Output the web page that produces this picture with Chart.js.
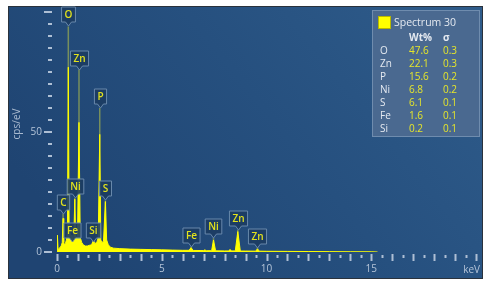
<!DOCTYPE html>
<html>
<head>
<meta charset="utf-8">
<script src="https://cdn.jsdelivr.net/npm/chart.js@4.4.1/dist/chart.umd.min.js"></script>
<style>
  html, body { margin: 0; padding: 0; background: #fff; }
</style>
</head>
<body>
<canvas id="spectrum" width="498" height="286"></canvas>
<script>
// EDS spectrum (keV, cps/eV)
const energies = [
  0.00, 0.02, 0.05, 0.10, 0.15, 0.20, 0.25, 0.29, 0.32, 0.36,
  0.40, 0.45, 0.50, 0.54, 0.58, 0.62, 0.67, 0.71, 0.75, 0.80,
  0.85, 0.89, 0.93, 0.98, 1.05, 1.11, 1.18, 1.25, 1.35, 1.45,
  1.55, 1.65, 1.74, 1.80, 1.90, 1.97, 2.04, 2.09, 2.15, 2.22,
  2.31, 2.37, 2.45, 2.55, 2.70, 3.00, 3.50, 4.00, 4.50, 5.00,
  5.50, 6.00, 6.30, 6.40, 6.50, 7.00, 7.06, 7.12, 7.38, 7.47,
  7.57, 8.00, 8.18, 8.26, 8.34, 8.51, 8.63, 8.75, 9.00, 9.48,
  9.57, 9.66, 10.0, 11.0, 12.0, 13.0, 14.0, 15.0, 15.3
];
const counts = [
  0, 7, 1, 1.5, 2, 2.5, 4, 14, 4, 3,
  3.5, 5, 8, 77, 8, 5, 5.5, 7, 5, 5,
  22, 6, 6, 7, 54, 6, 4, 3, 2.5, 2.5,
  2.8, 3, 5, 3.5, 4, 6, 49, 5, 4, 4.5,
  21, 5, 3, 2, 1.6, 1.4, 1.2, 1.1, 1, 0.9,
  0.8, 0.7, 0.7, 1.8, 0.65, 0.6, 0.9, 0.55, 0.55, 5,
  0.5, 0.45, 0.45, 1, 0.45, 0.45, 8.5, 0.4, 0.4, 0.35,
  1.3, 0.35, 0.3, 0.25, 0.2, 0.15, 0.1, 0.08, 0
];

// peak callouts: element, energy, height of the pointer tip (cps/eV)
const peakNames = ['O', 'Zn', 'P', 'C', 'Ni', 'S', 'Fe', 'Si', 'Fe', 'Ni', 'Zn', 'Zn'];
const peakKeV = [0.54, 1.05, 2.04, 0.29, 0.85, 2.31, 0.71, 1.74, 6.40, 7.47, 8.63, 9.57];
const peakTip = [94, 76, 60, 16, 22.5, 21.5, 4, 4, 2.2, 5.8, 9.3, 1.8];

// quantification table
const elements = ['O', 'Zn', 'P', 'Ni', 'S', 'Fe', 'Si'];
const wtPercent = ['47.6', '22.1', '15.6', '6.8', '6.1', '1.6', '0.2'];
const sigma = ['0.3', '0.3', '0.2', '0.2', '0.1', '0.1', '0.1'];

const FONT = '"Open Sans", "Noto Sans", sans-serif';
const TICK_COLOR = '#aebfd4';

const decor = {
  id: 'decor',
  beforeDraw(chart) {
    const ctx = chart.ctx;
    const xs = chart.scales.x, ys = chart.scales.y;
    ctx.save();
    ctx.fillStyle = '#fff';
    ctx.fillRect(0, 0, chart.width, chart.height);

    // panel
    const g = ctx.createLinearGradient(482, 7, 120, 300);
    g.addColorStop(0, '#2f5c8b');
    g.addColorStop(0.5, '#26507f');
    g.addColorStop(1, '#1f4472');
    ctx.fillStyle = g;
    ctx.fillRect(9, 7, 473, 271);
    ctx.strokeStyle = '#2a323c';
    ctx.lineWidth = 1;
    ctx.strokeRect(8.5, 6.5, 474, 272);

    // y tick marks
    ctx.strokeStyle = TICK_COLOR;
    ctx.lineWidth = 2;
    for (let v = 0; v <= 100; v += 5) {
      const py = Math.round(ys.getPixelForValue(v));
      const major = v % 50 === 0;
      ctx.beginPath();
      ctx.moveTo(major ? 44 : 48, py);
      ctx.lineTo(52, py);
      ctx.stroke();
    }
    // x tick marks
    for (let i = 0; i <= 40; i++) {
      const px = Math.round(xs.getPixelForValue(i / 2)) + 0.5;
      const base = ys.getPixelForValue(0);
      ctx.beginPath();
      ctx.moveTo(px, base + (i % 2 === 0 ? 2 : 3));
      ctx.lineTo(px, base + (i % 2 === 0 ? 9 : 6));
      ctx.stroke();
    }

    // x unit, right-aligned under the last tick
    ctx.fillStyle = '#b4c4d8';
    ctx.font = '10px ' + FONT;
    ctx.textAlign = 'right';
    ctx.textBaseline = 'middle';
    ctx.fillText('keV', 480, 270);

    // y title
    ctx.translate(17, 124);
    ctx.rotate(-Math.PI / 2);
    ctx.fillStyle = '#a9bad0';
    ctx.textAlign = 'center';
    ctx.fillText('cps/eV', 0, 0);
    ctx.restore();
  },
  beforeDatasetsDraw(chart) {
    const ctx = chart.ctx;
    const xs = chart.scales.x, ys = chart.scales.y;
    ctx.save();
    ctx.strokeStyle = 'rgba(190,200,70,0.55)';
    ctx.lineWidth = 1.5;
    peakNames.forEach((n, i) => {
      const px = xs.getPixelForValue(peakKeV[i]);
      ctx.beginPath();
      ctx.moveTo(px, ys.getPixelForValue(peakTip[i]));
      ctx.lineTo(px, ys.getPixelForValue(0));
      ctx.stroke();
    });
    ctx.restore();
  },
  afterDatasetsDraw(chart) {
    const ctx = chart.ctx;
    const xs = chart.scales.x, ys = chart.scales.y;
    ctx.save();
    ctx.font = '600 10px ' + FONT;
    ctx.textAlign = 'center';
    ctx.textBaseline = 'middle';
    peakNames.forEach((n, i) => {
      const px = Math.round(xs.getPixelForValue(peakKeV[i])) + 0.5;
      const tip = Math.round(ys.getPixelForValue(peakTip[i]));
      const w = Math.max(12, ctx.measureText(n).width + 6);
      const h = 15;
      const bottom = tip - 4;
      const left = px - w / 2;
      ctx.beginPath();
      ctx.moveTo(left, bottom - h);
      ctx.lineTo(left + w, bottom - h);
      ctx.lineTo(left + w, bottom);
      ctx.lineTo(px + 3, bottom);
      ctx.lineTo(px, tip);
      ctx.lineTo(px - 3, bottom);
      ctx.lineTo(left, bottom);
      ctx.closePath();
      ctx.fillStyle = 'rgba(28,60,98,0.9)';
      ctx.fill();
      ctx.strokeStyle = '#6888ab';
      ctx.lineWidth = 1;
      ctx.stroke();
      ctx.fillStyle = '#e2e21c';
      ctx.fillText(n, px, bottom - h / 2 + 0.5);
    });

    // quantification box
    ctx.fillStyle = '#4a6990';
    ctx.fillRect(372, 10, 108, 127);
    ctx.strokeStyle = '#6f8cae';
    ctx.strokeRect(372.5, 10.5, 107, 126);
    ctx.fillStyle = '#ffff00';
    ctx.fillRect(378, 16, 13, 13);
    ctx.strokeStyle = '#b8b800';
    ctx.strokeRect(378.5, 16.5, 12, 12);
    ctx.textAlign = 'left';
    ctx.font = '10.5px ' + FONT;
    ctx.fillStyle = '#e4e9f0';
    ctx.fillText('Spectrum 30', 394, 23);
    ctx.font = 'bold 10px ' + FONT;
    ctx.fillText('Wt%', 409, 38);
    ctx.fillText('σ', 443, 38);
    ctx.font = '10px ' + FONT;
    elements.forEach((el, i) => {
      const py = 51 + i * 13;
      ctx.fillStyle = '#e4e9f0';
      ctx.fillText(el, 380, py);
      ctx.fillStyle = '#e6e62a';
      ctx.fillText(wtPercent[i], 409, py);
      ctx.fillText(sigma[i], 443, py);
    });
    ctx.restore();
  }
};

new Chart(document.getElementById('spectrum'), {
  type: 'line',
  data: {
    datasets: [{
      data: energies.map((e, i) => ({ x: e, y: counts[i] })),
      borderColor: '#ffff00',
      backgroundColor: '#ffff00',
      borderWidth: 1,
      fill: 'origin',
      pointRadius: 0,
      tension: 0
    }]
  },
  options: {
    responsive: false,
    animation: false,
    devicePixelRatio: 1,
    layout: { padding: { top: 12, right: 22, left: 0, bottom: 0 } },
    plugins: { legend: { display: false }, tooltip: { enabled: false } },
    scales: {
      x: {
        type: 'linear',
        min: 0,
        max: 20,
        grid: { display: false },
        border: { display: false },
        afterFit: s => { s.height = 34; },
        ticks: {
          stepSize: 0.5,
          autoSkip: false,
          maxRotation: 0,
          padding: 3,
          color: '#b4c4d8',
          font: { family: FONT, size: 10 },
          callback: v => (v % 5 === 0 && v < 20) ? v : ''
        }
      },
      y: {
        min: 0,
        max: 100,
        // invisible tick length pushes the labels away from the plot
        grid: { drawOnChartArea: false, drawTicks: true, tickLength: 15, tickColor: 'rgba(0,0,0,0)' },
        border: { display: false },
        afterFit: s => { s.width = 57; },
        ticks: {
          stepSize: 5,
          autoSkip: false,
          padding: 0,
          color: '#b4c4d8',
          font: { family: FONT, size: 10 },
          callback: v => (v === 0 || v === 50) ? v : ''
        }
      }
    }
  },
  plugins: [decor]
});
</script>
</body>
</html>
